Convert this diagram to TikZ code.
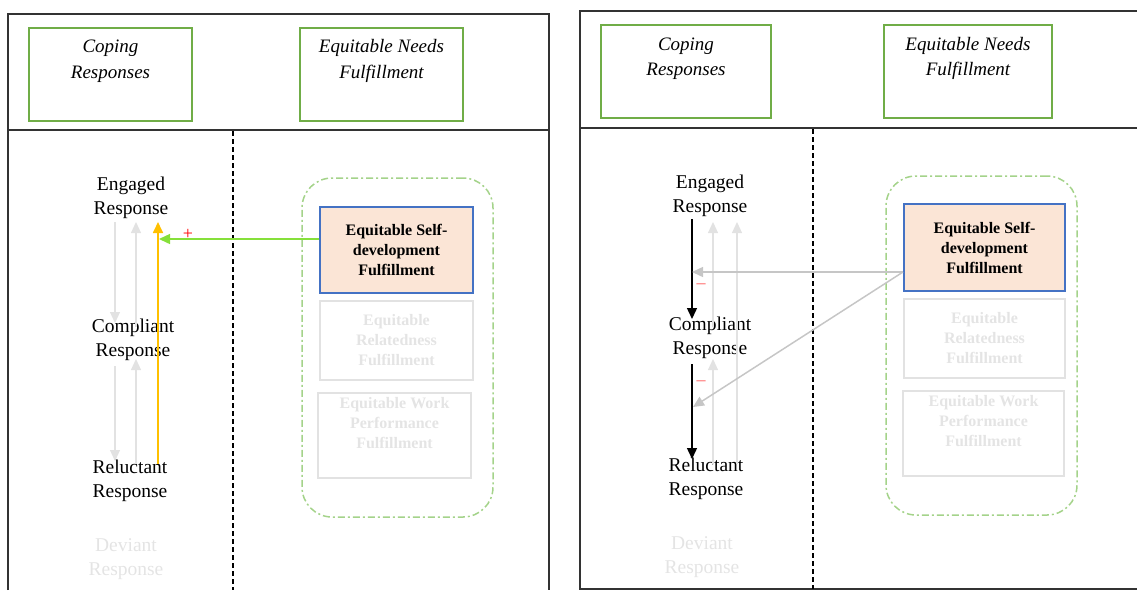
\documentclass[tikz,border=0pt]{standalone}
\usepackage{fontspec}
\setmainfont{Liberation Serif}
\usetikzlibrary{arrows.meta}
\definecolor{hdrgreen}{HTML}{70AD47}
\definecolor{grpgreen}{HTML}{A4D38A}
\definecolor{peach}{HTML}{FBE5D6}
\definecolor{boxblue}{HTML}{4472C4}
\definecolor{fadeline}{HTML}{E2E2E2}
\definecolor{fadetext}{HTML}{E4E4E4}
\definecolor{orangeY}{HTML}{FFC000}
\definecolor{limegreen}{HTML}{86E03A}
\definecolor{midgray}{HTML}{C6C6C6}
\definecolor{softred}{HTML}{FF5C5C}
\tikzset{
  frameline/.style={line width=1.4pt, draw=black!80},
  hdrbox/.style={draw=hdrgreen, line width=1.2pt, inner sep=0pt, minimum height=93pt},
  hdrtext/.style={align=center, inner sep=0pt, font=\itshape\fontsize{19}{25.5}\selectfont},
  resp/.style={align=center, inner sep=0pt, font=\fontsize{19.5}{24.5}\selectfont},
  fadedresp/.style={resp, text=fadetext},
  grpbox/.style={draw=grpgreen, line width=1.5pt, rounded corners=30pt,
    dash pattern=on 7pt off 3pt on 2pt off 3pt, inner sep=0pt},
  needbox/.style={align=center, inner sep=0pt, line width=1.2pt,
    font=\bfseries\fontsize{16}{20}\selectfont, minimum width=153pt},
  selfbox/.style={needbox, draw=boxblue, fill=peach, line width=1.6pt},
  fadebox/.style={needbox, draw=fadeline, text=fadetext},
  divider/.style={draw=black, line width=1.3pt, dash pattern=on 5pt off 3pt},
  tip/.style={-{Triangle[width=10pt,length=11pt]}},
  faintarrow/.style={tip, draw=fadeline, fill=fadeline, line width=1.1pt},
  blackarrow/.style={tip, draw=black, line width=1.4pt},
  grayarrow/.style={tip, draw=midgray, line width=1.5pt},
  sign/.style={inner sep=0pt, font=\fontsize{18}{18}\selectfont}
}
\begin{document}
\begin{tikzpicture}[x=1pt,y=-1pt]
\useasboundingbox (0,0) rectangle (1137,590);

% ---------- LEFT PANEL ----------
\draw[frameline] (8,590) -- (8,14) -- (549,14) -- (549,590);
\draw[frameline] (8,130) -- (549,130);
\draw[divider] (233,131) -- (233,590);

\node[hdrbox, minimum width=163pt] (lcopbox) at (110.5,74.5) {};
\node[hdrtext] (lcop) at (110.5,61) {Coping\\Responses};
\node[hdrbox, minimum width=163pt] (lneedbox) at (381.5,74.5) {};
\node[hdrtext] (lneed) at (381.5,61) {Equitable Needs\\Fulfillment};

\node[resp] (lEng) at (131,198) {Engaged\\Response};
\node[resp] (lCom) at (133,340) {Compliant\\Response};
\node[resp] (lRel) at (130,481) {Reluctant\\Response};
\node[fadedresp] (lDev) at (126,559) {Deviant\\Response};

\node[grpbox, minimum width=191pt, minimum height=339pt] (lgrp) at (397.5,347.5) {};
\node[selfbox, minimum height=86pt] (lSelf) at (396.5,250) {Equitable Self-\\development\\Fulfillment};
\node[fadebox, minimum height=79pt] (lRelat) at (396.5,340.5) {Equitable\\Relatedness\\Fulfillment};
\node[fadebox, minimum height=85pt] (lWork) at (394.5,435.5) {Equitable Work\\Performance\\Fulfillment\\[5pt]};

% faint arrows
\coordinate (la1) at (115,222); \coordinate (la2) at (115,323);
\coordinate (la3) at (115,366); \coordinate (la4) at (115,461);
\coordinate (lb1) at (136,327); \coordinate (lb2) at (136,222);
\coordinate (lb3) at (136,464); \coordinate (lb4) at (136,359);
\draw[faintarrow] (la1) -- (la2);
\draw[faintarrow] (la3) -- (la4);
\draw[faintarrow] (lb1) -- (lb2);
\draw[faintarrow] (lb3) -- (lb4);
% orange arrow
\coordinate (lo1) at (158,464); \coordinate (lo2) at (158,222);
\draw[tip, draw=orangeY, fill=orangeY, line width=1.7pt] (lo1) -- (lo2);
% green arrow
\coordinate (lg) at (159,239);
\draw[tip, draw=limegreen, line width=1.4pt] (lSelf.west |- lg) -- (lg);
\node[sign, text=red] (lplus) at (188,234) {+};

% ---------- RIGHT PANEL ----------
\draw[frameline] (1137,11) -- (580,11) -- (580,589) -- (1137,589);
\draw[frameline] (580,128) -- (1137,128);
\draw[divider] (813,129) -- (813,589);

\node[hdrbox, minimum width=170pt] (rcopbox) at (686,71.5) {};
\node[hdrtext] (rcop) at (686,58.5) {Coping\\Responses};
\node[hdrbox, minimum width=168pt] (rneedbox) at (968,71.5) {};
\node[hdrtext] (rneed) at (968,58.5) {Equitable Needs\\Fulfillment};

\node[resp] (rEng) at (710,196) {Engaged\\Response};
\node[resp] (rCom) at (710,338) {Compliant\\Response};
\node[resp] (rRel) at (706,479) {Reluctant\\Response};
\node[fadedresp] (rDev) at (702,557) {Deviant\\Response};

\node[grpbox, minimum width=191pt, minimum height=339pt] (rgrp) at (981.5,345.5) {};
\node[selfbox, minimum width=161pt, minimum height=87pt] (rSelf) at (984.5,247.5) {Equitable Self-\\development\\Fulfillment};
\node[fadebox, minimum width=161pt, minimum height=79pt] (rRelat) at (984.5,338.5) {Equitable\\Relatedness\\Fulfillment};
\node[fadebox, minimum width=161pt, minimum height=85pt] (rWork) at (983.5,433.5) {Equitable Work\\Performance\\Fulfillment\\[5pt]};

% faint arrows
\coordinate (rb1) at (713,327); \coordinate (rb2) at (713,222);
\coordinate (rb3) at (713,464); \coordinate (rb4) at (713,359);
\coordinate (rc1) at (737,464); \coordinate (rc2) at (737,222);
\draw[faintarrow] (rb1) -- (rb2);
\draw[faintarrow] (rb3) -- (rb4);
\draw[faintarrow] (rc1) -- (rc2);
% black arrows
\coordinate (rk1) at (692,219); \coordinate (rk2) at (692,319);
\coordinate (rk3) at (692,364); \coordinate (rk4) at (692,459);
\draw[blackarrow] (rk1) -- (rk2);
\draw[blackarrow] (rk3) -- (rk4);
% gray arrows from self-development
\coordinate (rs) at (903,272);
\coordinate (rg1) at (692,272);
\coordinate (rg2) at (693,407);
\draw[grayarrow] (rs) -- (rg1);
\draw[grayarrow] (rs) -- (rg2);
\node[sign, text=softred] (rm1) at (701,286) {–};
\node[sign, text=softred] (rm2) at (701,383) {–};
\end{tikzpicture}
\end{document}
